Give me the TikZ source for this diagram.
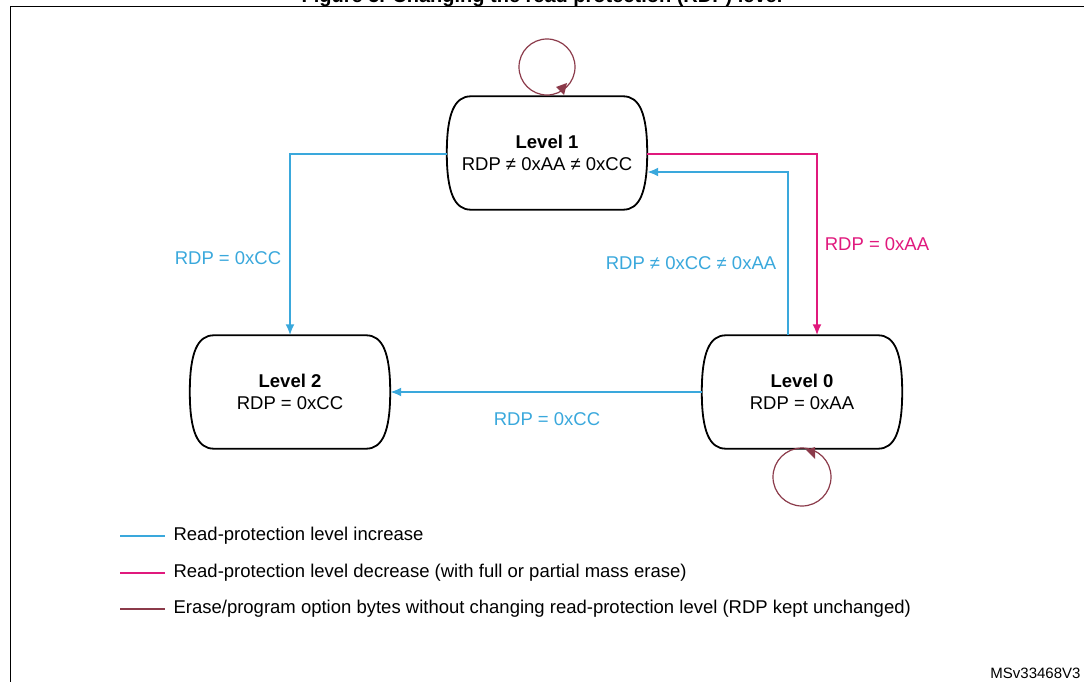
\documentclass[tikz,border=0pt]{standalone}
\usepackage{fontspec}
\setmainfont{Liberation Sans}
\usetikzlibrary{positioning,arrows.meta}
\definecolor{incblue}{HTML}{3AA8DC}
\definecolor{decpink}{HTML}{E0197D}
\definecolor{keepbrown}{HTML}{8B3A4A}

\tikzset{
  state/.style={minimum width=200pt,minimum height=113pt,inner sep=0pt,align=center,font=\fontsize{18.5}{22}\selectfont},
  outline/.style={draw=black,line width=1.8pt},
  inc/.style={draw=incblue,line width=2pt,-{Latex[length=11pt,width=9pt]}},
  dec/.style={draw=decpink,line width=2pt,-{Latex[length=11pt,width=9pt]}},
  keep/.style={draw=keepbrown,line width=1.2pt},
  lbl/.style={font=\fontsize{18.5}{22}\selectfont},
}
% outline of a state
\newcommand{\stateoutline}[1]{%
  \draw[outline] ([xshift=24pt]#1.north west) -- ([xshift=-24pt]#1.north east)
    .. controls +(16,0) and +(0,40) .. (#1.east)
    .. controls +(0,-40) and +(16,0) .. ([xshift=-24pt]#1.south east)
    -- ([xshift=24pt]#1.south west)
    .. controls +(-16,0) and +(0,-40) .. (#1.west)
    .. controls +(0,40) and +(-16,0) .. ([xshift=24pt]#1.north west);}

\begin{document}
\begin{tikzpicture}[x=1pt,y=1pt]
\useasboundingbox (0,0) rectangle (1084,681);
% frame and title
\draw[line width=1pt] (10,-5) rectangle (1090,674);
\node[anchor=base,font=\bfseries\fontsize{20}{24}\selectfont] (title) at (542,678) {Figure 5. Changing the read protection (RDP) level};

% the states
\node[state] (lone) at (547,528) {\textbf{Level 1}\\RDP ≠ 0xAA ≠ 0xCC};
\node[state] (ltwo) at (290,289) {\textbf{Level 2}\\RDP = 0xCC};
\node[state] (lzero) at (802,289) {\textbf{Level 0}\\RDP = 0xAA};
\stateoutline{lone}
\stateoutline{ltwo}
\stateoutline{lzero}

% transitions
\draw[inc] (lone.west |- 0,527) -| (ltwo.north);
\draw[dec] (lone.east |- 0,527) -| (817,0 |- lzero.north);
\draw[inc] (788,0 |- lzero.north) |- (lone.east |- 0,509);
\draw[inc] (lzero.west) -- (ltwo.east);
\node[lbl,text=incblue] (lcc) at (228,423) {RDP = 0xCC};
\node[lbl,text=incblue] (lne) at (691,418) {RDP ≠ 0xCC ≠ 0xAA};
\node[lbl,text=decpink] (laa) at (877,437) {RDP = 0xAA};
\node[lbl,text=incblue] (lcc2) at (547,262) {RDP = 0xCC};

% self loops
\draw[keep] (547,614) circle[radius=28];
\fill[keepbrown] (564,586) -- (556,594) -- (567,598) -- cycle;
\draw[keep] (802,204) circle[radius=29];
\fill[keepbrown] (806,231) -- (815,234) -- (815,222) -- cycle;

% legend
\foreach \c/\y/\t in {incblue/145/{Read-protection level increase},
  decpink/108/{Read-protection level decrease (with full or partial mass erase)},
  keepbrown/72/{Erase/program option bytes without changing read-protection level (RDP kept unchanged)}} {
  \draw[\c,line width=2.5pt] (120,\y) -- (165,\y);
  \node[lbl,anchor=west] at (170,\y) {\t};
}
\node[font=\fontsize{15}{18}\selectfont,anchor=base east] (ref) at (1084,3) {MSv33468V3};
\end{tikzpicture}
\end{document}
